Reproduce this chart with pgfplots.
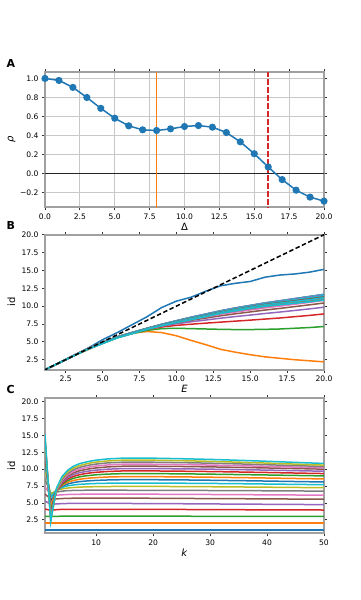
\documentclass[border=0pt]{standalone}
\usepackage{pgfplots}
\pgfplotsset{compat=1.18}
\usepackage{pgfplotstable}
\usepackage{fontspec}
\setmainfont{DejaVu Sans}

\definecolor{c0}{HTML}{1F77B4}
\definecolor{c1}{HTML}{FF7F0E}
\definecolor{c2}{HTML}{2CA02C}
\definecolor{c3}{HTML}{D62728}
\definecolor{c4}{HTML}{9467BD}
\definecolor{c5}{HTML}{8C564B}
\definecolor{c6}{HTML}{E377C2}
\definecolor{c7}{HTML}{7F7F7F}
\definecolor{c8}{HTML}{BCBD22}
\definecolor{c9}{HTML}{17BECF}
\definecolor{gridc}{HTML}{C8C8C8}
\definecolor{spine}{HTML}{A0A0A0}

% id(E,k): one row per k, one column per E = 1..20
\pgfplotstableread{
k  e1   e2   e3   e4   e5   e6   e7   e8   e9   e10   e11   e12   e13   e14   e15   e16   e17   e18   e19   e20
1  1.00 2.00 3.00 4.10 5.30 6.30 7.40 8.50 9.80 10.70 11.25 12.10 12.85 13.20 13.45 14.05 14.35 14.50 14.75 15.15
2  1.00 2.00 3.00 3.90 4.80 5.60 6.20 6.45 6.30 5.85  5.20  4.60  3.95  3.55  3.20  2.90  2.70  2.50  2.35  2.20
3  1.00 2.00 3.00 4.00 4.85 5.60 6.15 6.60 6.85 6.90  6.85  6.80  6.75  6.72  6.72  6.75  6.80  6.90  7.00  7.15
4  1.00 2.00 3.05 4.05 4.90 5.65 6.20 6.75 7.08 7.31  7.47  7.62  7.76  7.90  8.04  8.19  8.34  8.52  8.70  8.91
5  1.00 2.00 3.05 4.05 4.92 5.68 6.25 6.82 7.21 7.53  7.81  8.06  8.31  8.54  8.75  8.97  9.17  9.39  9.61  9.85
6  1.00 2.00 3.05 4.05 4.92 5.70 6.27 6.85 7.29 7.67  8.02  8.33  8.65  8.93  9.19  9.45  9.68  9.93  10.18 10.44
7  1.00 2.00 3.05 4.05 4.92 5.70 6.28 6.87 7.34 7.75  8.15  8.50  8.86  9.17  9.46  9.75  10.00 10.26 10.52 10.80
8  1.00 2.00 3.05 4.05 4.92 5.70 6.30 6.88 7.37 7.80  8.23  8.61  8.99  9.33  9.63  9.93  10.20 10.47 10.74 11.02
9  1.00 2.00 3.05 4.05 4.92 5.70 6.30 6.88 7.39 7.85  8.29  8.69  9.09  9.45  9.76  10.08 10.36 10.64 10.92 11.20
10 1.00 2.00 3.05 4.05 4.92 5.70 6.30 6.88 7.41 7.88  8.34  8.75  9.17  9.54  9.86  10.19 10.47 10.76 11.05 11.34
12 1.00 2.00 3.05 4.05 4.92 5.70 6.30 6.88 7.43 7.92  8.40  8.84  9.27  9.66  10.00 10.34 10.63 10.93 11.22 11.52
15 1.00 2.00 3.05 4.05 4.92 5.70 6.30 6.88 7.45 7.95  8.45  8.90  9.35  9.75  10.10 10.45 10.75 11.05 11.35 11.65
18 1.00 2.00 3.04 4.04 4.91 5.70 6.30 6.87 7.45 7.95  8.44  8.89  9.34  9.74  10.09 10.44 10.74 11.04 11.34 11.64
20 1.00 2.00 3.04 4.04 4.90 5.69 6.29 6.87 7.44 7.94  8.44  8.89  9.34  9.74  10.09 10.44 10.73 11.03 11.33 11.63
25 1.00 2.00 3.03 4.03 4.88 5.67 6.27 6.86 7.43 7.92  8.41  8.86  9.31  9.70  10.05 10.40 10.68 10.97 11.26 11.55
30 1.00 2.00 3.02 4.01 4.85 5.64 6.25 6.84 7.40 7.89  8.36  8.81  9.26  9.65  10.00 10.34 10.61 10.89 11.16 11.45
36 1.00 2.00 3.01 3.99 4.82 5.62 6.22 6.82 7.36 7.84  8.29  8.74  9.19  9.57  9.92  10.25 10.50 10.76 11.01 11.29
40 1.00 2.00 3.01 3.98 4.80 5.60 6.20 6.80 7.33 7.80  8.24  8.69  9.14  9.51  9.86  10.18 10.42 10.66 10.90 11.17
48 1.00 2.00 3.00 3.96 4.76 5.56 6.16 6.76 7.27 7.72  8.13  8.58  9.03  9.38  9.73  10.04 10.24 10.45 10.66 10.91
50 1.00 2.00 3.00 3.95 4.75 5.55 6.15 6.75 7.25 7.70  8.10  8.55  9.00  9.35  9.70  10.00 10.20 10.40 10.60 10.85
}\idtab
% one row per E, one column per k
\pgfplotstabletranspose[colnames from=k]{\idT}{\idtab}

\pgfplotsset{
  panel/.style={
    scale only axis, width=279pt, height=135pt,
    axis line style={spine, line width=1.8pt},
    tick align=outside, major tick length=3pt,
    every tick/.style={black!80, line width=0.8pt},
    tick label style={font=\fontsize{7.6}{9}\selectfont},
    label style={font=\fontsize{7.6}{9}\selectfont},
    /pgf/number format/assume math mode=true,
    /pgf/number format/fixed, /pgf/number format/fixed zerofill,
    /pgf/number format/precision=1,
    every axis x label/.style={at={(axis description cs:0.5,-0.17)}, anchor=base},
    every axis y label/.style={at={(axis description cs:-0.12,0.5)}, anchor=center, rotate=90},
    every axis plot/.append style={line width=1.5pt},
    cycle list={{c0},{c1},{c2},{c3},{c4},{c5},{c6},{c7},{c8},{c9}},
  }
}
\newcommand{\bline}[2]{\addplot[#1] table[x expr=\coordindex+1, y index=#2] {\idT};}

\begin{document}
\begin{tikzpicture}
\path[use as bounding box] (0,0) rectangle (360pt,-600pt);

% ---- A ----
\begin{axis}[panel, at={(45pt,-72.3pt)}, anchor=north west,
  xmin=0, xmax=20, ymin=-0.354, ymax=1.0645,
  xtick={0,2.5,...,20}, ytick={-0.2,0,0.2,0.4,0.6,0.8,1.0},
  yticklabels={−0.2,0.0,0.2,0.4,0.6,0.8,1.0},
  grid=major, major grid style={draw=gridc, line width=1.1pt},
  xlabel={Δ}, ylabel={\textit{ρ}}]
\addplot[black!85, line width=1.6pt] coordinates {(-1,0) (21,0)};
\addplot[c1, line width=1.6pt] coordinates {(8,-1) (8,2)};
\addplot[c3, line width=1.8pt, dash pattern=on 5.5pt off 2.5pt] coordinates {(16,-1) (16,2)};
\addplot[c0, line width=1.5pt, mark=*, mark size=2.8pt, mark options={fill=c0, draw=c0, solid}] coordinates {
(0,1.000) (1,0.979) (2,0.906) (3,0.800) (4,0.686) (5,0.582) (6,0.502)
(7,0.460) (8,0.453) (9,0.470) (10,0.495) (11,0.505) (12,0.488) (13,0.432)
(14,0.334) (15,0.209) (16,0.070) (17,-0.063) (18,-0.174) (19,-0.247) (20,-0.289)};
\end{axis}

% ---- B ----
\begin{axis}[panel, at={(45pt,-234.7pt)}, anchor=north west,
  xmin=1.1, xmax=20, ymin=1.1, ymax=20,
  xtick={2.5,5,...,20}, ytick={2.5,5,...,20},
  xlabel={\textit{E}}, ylabel={id}]
\bline{c0}{1}
\bline{c1}{2}
\bline{c2}{3}
\bline{c3}{4}
\bline{c4}{5}
\bline{c5}{6}
\bline{c6}{7}
\bline{c7}{8}
\bline{c8}{9}
\bline{c9}{10}
\bline{c1}{11}
\bline{c4}{12}
\bline{c7}{13}
\bline{c9}{14}
\bline{c4}{15}
\bline{c9}{16}
\bline{c5}{17}
\bline{c9}{18}
\bline{c7}{19}
\bline{c9}{20}
\addplot[black, line width=1.5pt, dash pattern=on 4.5pt off 2.5pt] coordinates {(1,1) (20,20)};
\end{axis}

% ---- C ----
\begin{axis}[panel, at={(45pt,-398.3pt)}, anchor=north west,
  xmin=1, xmax=50, ymin=0.5, ymax=20.5,
  xtick={10,20,...,50}, ytick={2.5,5,...,20},
  xticklabel style={/pgf/number format/precision=0},
  xlabel={\textit{k}}, ylabel={id}]
\pgfplotsinvokeforeach{1,...,20}{\addplot table[x=k, y=e#1] {\idtab};}
\end{axis}

\node[anchor=base west, font=\fontsize{11}{13}\selectfont\bfseries] at (3pt,-67.3pt) {A};
\node[anchor=base west, font=\fontsize{11}{13}\selectfont\bfseries] at (3pt,-229.5pt) {B};
\node[anchor=base west, font=\fontsize{11}{13}\selectfont\bfseries] at (3pt,-393.3pt) {C};
\end{tikzpicture}
\end{document}
